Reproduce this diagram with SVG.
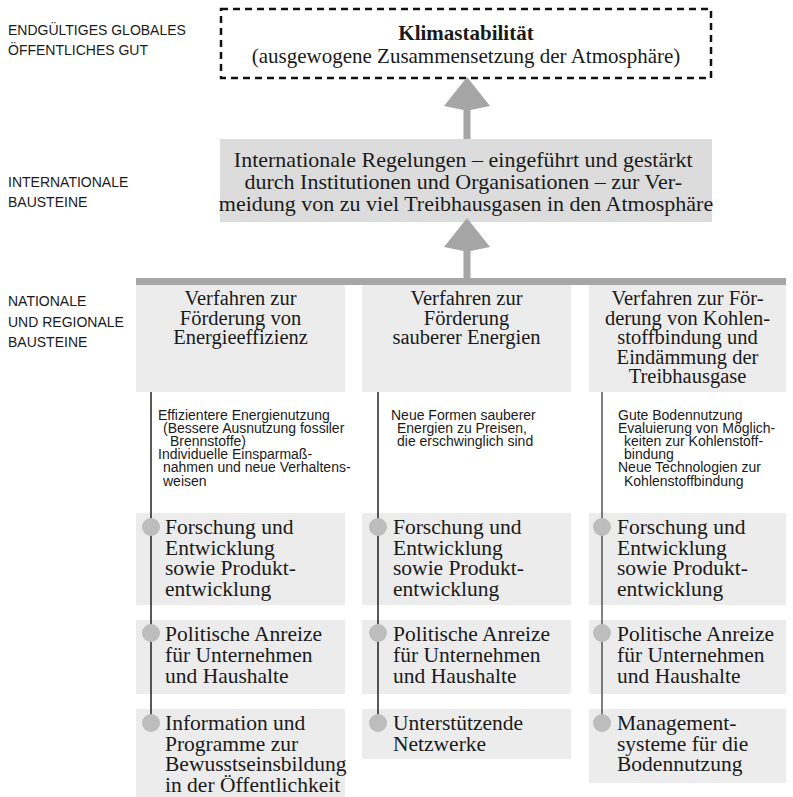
<svg xmlns="http://www.w3.org/2000/svg" width="793" height="797" viewBox="0 0 793 797">
<defs>
<style>
.lbl{font-family:"Liberation Sans",Arial,sans-serif;font-size:14px;fill:#1a1a1a}
.ser{font-family:"Liberation Serif","Times New Roman",serif;fill:#1a1a1a}
.hd{font-size:20.5px;text-anchor:middle}
.it{font-size:21.5px}
.sm{font-family:"Liberation Sans",Arial,sans-serif;font-size:14px;fill:#1a1a1a}
.box{fill:#ececec}
.arrow{fill:#a6a6a6}
.dot{fill:#bdbdbd}
.vl{stroke:#222;stroke-width:1.5;fill:none}
</style>
</defs>
<rect width="793" height="797" fill="#ffffff"/>

<g id="level-labels">
<text class="lbl" x="8" y="35">ENDGÜLTIGES GLOBALES</text>
<text class="lbl" x="8" y="55">ÖFFENTLICHES GUT</text>
<text class="lbl" x="8" y="186.5">INTERNATIONALE</text>
<text class="lbl" x="8" y="206.5">BAUSTEINE</text>
<text class="lbl" x="8" y="306">NATIONALE</text>
<text class="lbl" x="8" y="326.5">UND REGIONALE</text>
<text class="lbl" x="8" y="347">BAUSTEINE</text>
</g>

<g id="goal">
<rect x="221" y="9" width="490" height="69" fill="none" stroke="#111" stroke-width="2.5" stroke-dasharray="7 5"/>
<text class="ser" x="466" y="40" font-size="21" font-weight="bold" text-anchor="middle">Klimastabilität</text>
<text class="ser" x="466" y="63" font-size="21" text-anchor="middle">(ausgewogene Zusammensetzung der Atmosphäre)</text>
</g>

<g id="international">
<rect x="220" y="139" width="492" height="83" fill="#dcdcdc"/>
<text class="ser" font-size="22" text-anchor="middle">
<tspan x="466" y="167">Internationale Regelungen – eingeführt und gestärkt</tspan>
<tspan x="466" y="189">durch Institutionen und Organisationen – zur Ver-</tspan>
<tspan x="466" y="211">meidung von zu viel Treibhausgasen in den Atmosphäre</tspan>
</text>
</g>

<g id="col1-header">
<rect class="box" x="136" y="285" width="209" height="107"/>
<text class="ser hd"><tspan x="240.5" y="305">Verfahren zur</tspan><tspan x="240.5" y="324.5">Förderung von</tspan><tspan x="240.5" y="344">Energieeffizienz</tspan></text>
</g>
<g id="col2-header">
<rect class="box" x="362" y="285" width="209" height="107"/>
<text class="ser hd"><tspan x="466.5" y="305">Verfahren zur</tspan><tspan x="466.5" y="324.5">Förderung</tspan><tspan x="466.5" y="344">sauberer Energien</tspan></text>
</g>
<g id="col3-header">
<rect class="box" x="589" y="285" width="197" height="107"/>
<text class="ser hd"><tspan x="687.5" y="305">Verfahren zur För-</tspan><tspan x="687.5" y="324.5">derung von Kohlen-</tspan><tspan x="687.5" y="344">stoffbindung und</tspan><tspan x="687.5" y="363.5">Eindämmung der</tspan><tspan x="687.5" y="383">Treibhausgase</tspan></text>
</g>

<g id="col1-notes">
<text class="sm"><tspan x="158" y="419.5">Effizientere Energienutzung</tspan><tspan x="163" y="432.7">(Bessere Ausnutzung fossiler</tspan><tspan x="170" y="445.9">Brennstoffe)</tspan><tspan x="158" y="459.1">Individuelle Einsparmaß-</tspan><tspan x="163" y="472.3">nahmen und neue Verhaltens-</tspan><tspan x="163" y="485.5">weisen</tspan></text>
</g>
<g id="col2-notes">
<text class="sm"><tspan x="391" y="419.5">Neue Formen sauberer</tspan><tspan x="397" y="432.7">Energien zu Preisen,</tspan><tspan x="397" y="445.9">die erschwinglich sind</tspan></text>
</g>
<g id="col3-notes">
<text class="sm"><tspan x="618" y="419.5">Gute Bodennutzung</tspan><tspan x="618" y="432.7">Evaluierung von Möglich-</tspan><tspan x="624" y="445.9">keiten zur Kohlenstoff-</tspan><tspan x="624" y="459.1">bindung</tspan><tspan x="618" y="472.3">Neue Technologien zur</tspan><tspan x="624" y="485.5">Kohlenstoffbindung</tspan></text>
</g>

<g id="col1-item1">
<rect class="box" x="136" y="513" width="209" height="92"/>
<text class="ser it"><tspan x="165" y="534">Forschung und</tspan><tspan x="165" y="554.5">Entwicklung</tspan><tspan x="165" y="575">sowie Produkt-</tspan><tspan x="165" y="595.5">entwicklung</tspan></text>
</g>
<g id="col1-item2">
<rect class="box" x="136" y="620" width="209" height="74"/>
<text class="ser it"><tspan x="165" y="640.5">Politische Anreize</tspan><tspan x="165" y="661.5">für Unternehmen</tspan><tspan x="165" y="682.5">und Haushalte</tspan></text>
</g>
<g id="col1-item3">
<rect class="box" x="136" y="709" width="209" height="88"/>
<text class="ser it"><tspan x="165" y="730">Information und</tspan><tspan x="165" y="750.5">Programme zur</tspan><tspan x="165" y="771">Bewusstseinsbildung</tspan><tspan x="165" y="791.5">in der Öffentlichkeit</tspan></text>
</g>

<g id="col2-item1">
<rect class="box" x="362" y="513" width="209" height="92"/>
<text class="ser it"><tspan x="393" y="534">Forschung und</tspan><tspan x="393" y="554.5">Entwicklung</tspan><tspan x="393" y="575">sowie Produkt-</tspan><tspan x="393" y="595.5">entwicklung</tspan></text>
</g>
<g id="col2-item2">
<rect class="box" x="362" y="620" width="209" height="74"/>
<text class="ser it"><tspan x="393" y="640.5">Politische Anreize</tspan><tspan x="393" y="661.5">für Unternehmen</tspan><tspan x="393" y="682.5">und Haushalte</tspan></text>
</g>
<g id="col2-item3">
<rect class="box" x="362" y="709" width="209" height="50"/>
<text class="ser it"><tspan x="393" y="730">Unterstützende</tspan><tspan x="393" y="750.5">Netzwerke</tspan></text>
</g>

<g id="col3-item1">
<rect class="box" x="589" y="513" width="197" height="92"/>
<text class="ser it"><tspan x="617" y="534">Forschung und</tspan><tspan x="617" y="554.5">Entwicklung</tspan><tspan x="617" y="575">sowie Produkt-</tspan><tspan x="617" y="595.5">entwicklung</tspan></text>
</g>
<g id="col3-item2">
<rect class="box" x="589" y="620" width="197" height="74"/>
<text class="ser it"><tspan x="617" y="640.5">Politische Anreize</tspan><tspan x="617" y="661.5">für Unternehmen</tspan><tspan x="617" y="682.5">und Haushalte</tspan></text>
</g>
<g id="col3-item3">
<rect class="box" x="589" y="709" width="197" height="74"/>
<text class="ser it"><tspan x="617" y="730">Management-</tspan><tspan x="617" y="750.5">systeme für die</tspan><tspan x="617" y="771">Bodennutzung</tspan></text>
</g>

<g id="connectors">
<polygon class="arrow" points="467,77 490,106 470.5,110 470.5,139 463.5,139 463.5,110 444,106"/>
<polygon class="arrow" points="467,218 490,247 470.5,251 470.5,279 463.5,279 463.5,251 444,247"/>
<rect class="arrow" x="136" y="278" width="650" height="7"/>
<line class="vl" x1="151" y1="392" x2="151" y2="723"/>
<line class="vl" x1="378" y1="392" x2="378" y2="723"/>
<line class="vl" x1="602" y1="392" x2="602" y2="723" style="stroke:#555"/>
<circle class="dot" cx="151" cy="527" r="9"/>
<circle class="dot" cx="151" cy="633" r="9"/>
<circle class="dot" cx="151" cy="723" r="9"/>
<circle class="dot" cx="378" cy="527" r="9"/>
<circle class="dot" cx="378" cy="633" r="9"/>
<circle class="dot" cx="378" cy="723" r="9"/>
<circle class="dot" cx="602" cy="527" r="9"/>
<circle class="dot" cx="602" cy="633" r="9"/>
<circle class="dot" cx="602" cy="723" r="9"/>
</g>
</svg>
